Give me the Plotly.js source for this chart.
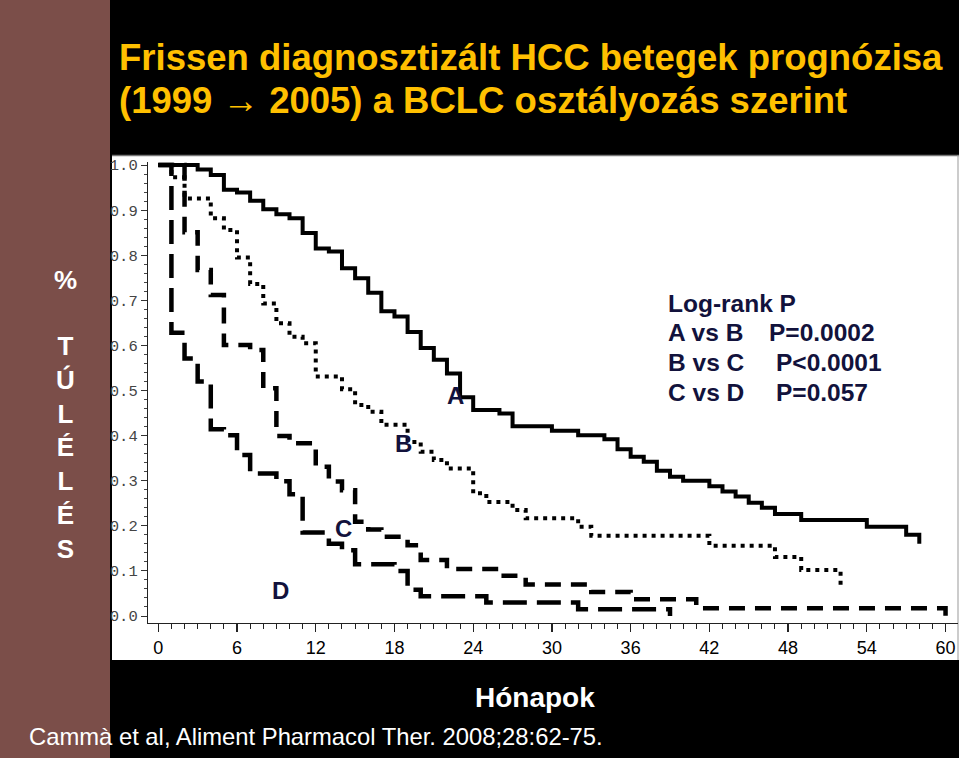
<!DOCTYPE html>
<html>
<head>
<meta charset="utf-8">
<script src="https://cdn.plot.ly/plotly-3.0.1.min.js"></script>
<style>
html,body{margin:0;padding:0;background:#000;}
#chart{width:959px;height:758px;}
</style>
</head>
<body>
<div id="chart"></div>
<script>
// ---- Data (Kaplan-Meier step curves) ----
const monthsA = [0,3,4,5,6,7,8,9,10,11,12,13,14,15,16,17,18,19,20,21,22,23,24,26,27,30,32,34,35,36,37,38,39,40,42,43,44,45,46,47,49,54,57,58];
const survA   = [1.0,0.990,0.978,0.945,0.939,0.921,0.902,0.891,0.882,0.849,0.815,0.808,0.771,0.749,0.717,0.676,0.664,0.630,0.594,0.568,0.538,0.485,0.457,0.449,0.421,0.411,0.401,0.392,0.370,0.353,0.342,0.322,0.309,0.300,0.288,0.276,0.265,0.251,0.240,0.226,0.213,0.198,0.180,0.160];

const monthsB = [0,1,2,4,5,6,7,8,9,10,11,12,14,15,16,17,19,20,21,22,24,25,27,28,32,33,42,47,49,52];
const survB   = [1.0,0.973,0.926,0.882,0.856,0.795,0.736,0.693,0.649,0.619,0.605,0.531,0.503,0.468,0.453,0.424,0.386,0.364,0.346,0.327,0.272,0.253,0.235,0.217,0.198,0.178,0.156,0.131,0.102,0.069];

const monthsC = [0,2,3,4,5,7,8,9,10,12,13,14,15,16,17,19,20,22,26,28,33,36,41,60];
const survC   = [1.0,0.851,0.767,0.712,0.601,0.590,0.505,0.399,0.383,0.331,0.298,0.279,0.209,0.192,0.176,0.157,0.124,0.104,0.089,0.070,0.053,0.037,0.017,0.0];

const monthsD = [0,1,2,3,4,5,6,7,9,10,11,13,14,15,18,19,20,25,32,39];
const survD   = [1.0,0.628,0.571,0.520,0.414,0.401,0.357,0.316,0.299,0.270,0.185,0.160,0.146,0.115,0.100,0.058,0.044,0.030,0.015,0.0];

const groupNames = ["A","B","C","D"];

const xTickVals   = [0,6,12,18,24,30,36,42,48,54,60];
const xTickLabels = ["0","6","12","18","24","30","36","42","48","54","60"];
const yTickVals   = [0,0.1,0.2,0.3,0.4,0.5,0.6,0.7,0.8,0.9,1.0];
const yTickLabels = ["0.0","0.1","0.2","0.3","0.4","0.5","0.6","0.7","0.8","0.9","1.0"];

const titleLine1 = "Frissen diagnosztizált HCC betegek prognózisa";
const titleLine2 = "(1999 → 2005) a BCLC osztályozás szerint";
const yLabelPct  = "%";
const yLabelWord = "T<br>Ú<br>L<br>É<br>L<br>É<br>S";
const xLabel     = "Hónapok";
const citation   = "Cammà et al, Aliment Pharmacol Ther. 2008;28:62-75.";
const logRankHead = "Log-rank P";
const comparisons = ["A vs B","B vs C","C vs D"];
const pValues     = ["P=0.0002","P&lt;0.0001","P=0.057"];

// ---- Layout helpers (pixel -> paper) ----
const ML=148, MR=1, MT=162, MB=135, W=959, H=758;
const PW = W-ML-MR, PH = H-MT-MB;
const px = v => (v-ML)/PW;
const py = v => (H-MB-v)/PH;

const navy = "#12123c";
const lineStyles = [
  {color:"#000", width:4, dash:"solid"},
  {color:"#000", width:4, dash:"4px,5px"},
  {color:"#000", width:4.5, dash:"16px,10px"},
  {color:"#000", width:4.5, dash:"24px,10px"}
];
const xs = [monthsA, monthsB, monthsC, monthsD];
const ys = [survA, survB, survC, survD];

const traces = xs.map((x,i)=>({
  type:"scatter", mode:"lines", x:x, y:ys[i], name:groupNames[i],
  line:Object.assign({shape:"hv"}, lineStyles[i]), hoverinfo:"skip"
}));

const bold = (size,color,fam)=>({family:fam||"Liberation Sans, Arial, sans-serif", size:size, color:color, weight:700});

const annotations = [
  {text:titleLine1, x:px(117), y:py(57), xanchor:"left", yanchor:"middle", font:bold(36.5,"#FFC000")},
  {text:titleLine2, x:px(117), y:py(101), xanchor:"left", yanchor:"middle", font:bold(36.5,"#FFC000")},
  {text:yLabelPct, x:px(65), y:py(280), xanchor:"center", yanchor:"middle", font:bold(26,"#fff")},
  {text:yLabelWord, x:px(65), y:py(447), xanchor:"center", yanchor:"middle", font:bold(26,"#fff")},
  {text:xLabel, x:px(535), y:py(697), xanchor:"center", yanchor:"middle", font:bold(28,"#fff")},
  {text:citation, x:px(27), y:py(736), xanchor:"left", yanchor:"middle", font:{family:"Liberation Sans, Arial, sans-serif", size:23.8, color:"#fff"}},
  {text:logRankHead, x:px(666), y:py(303), xanchor:"left", yanchor:"middle", font:bold(24.5,navy)},
  {text:comparisons[0], x:px(666), y:py(332), xanchor:"left", yanchor:"middle", font:bold(24.5,navy)},
  {text:pValues[0], x:px(767), y:py(332), xanchor:"left", yanchor:"middle", font:bold(24.5,navy)},
  {text:comparisons[1], x:px(666), y:py(362), xanchor:"left", yanchor:"middle", font:bold(24.5,navy)},
  {text:pValues[1], x:px(774), y:py(362), xanchor:"left", yanchor:"middle", font:bold(24.5,navy)},
  {text:comparisons[2], x:px(666), y:py(392), xanchor:"left", yanchor:"middle", font:bold(24.5,navy)},
  {text:pValues[2], x:px(774), y:py(392), xanchor:"left", yanchor:"middle", font:bold(24.5,navy)},
  {text:groupNames[0], x:px(455), y:py(395), xanchor:"center", yanchor:"middle", font:bold(24,navy)},
  {text:groupNames[1], x:px(403), y:py(443), xanchor:"center", yanchor:"middle", font:bold(24,navy)},
  {text:groupNames[2], x:px(343), y:py(528), xanchor:"center", yanchor:"middle", font:bold(24,navy)},
  {text:groupNames[3], x:px(280), y:py(590), xanchor:"center", yanchor:"middle", font:bold(24,navy)}
].map(a=>Object.assign({xref:"paper", yref:"paper", showarrow:false}, a));

const shapes = [
  {type:"rect", xref:"paper", yref:"paper", x0:px(0), x1:px(110), y0:py(758), y1:py(0), fillcolor:"#7b4e49", line:{width:0}, layer:"below"},
  {type:"rect", xref:"paper", yref:"paper", x0:px(112), x1:px(959), y0:py(660), y1:py(155), fillcolor:"#ffffff", line:{width:0}, layer:"below"},
  {type:"line", xref:"paper", yref:"paper", x0:px(112), x1:px(959), y0:py(155.5), y1:py(155.5), line:{color:"#777", width:1.5}, layer:"below"},
  {type:"line", xref:"paper", yref:"paper", x0:px(958), x1:px(958), y0:py(660), y1:py(155), line:{color:"#999", width:1}, layer:"below"}
];

const layout = {
  width:W, height:H,
  margin:{l:ML, r:MR, t:MT, b:MB, pad:0},
  paper_bgcolor:"#000", plot_bgcolor:"#fff",
  showlegend:false,
  xaxis:{
    range:[-0.785, 60.95], tickmode:"array", tickvals:xTickVals, ticktext:xTickLabels,
    ticks:"outside", ticklen:8, tickwidth:1.2, tickcolor:"#222",
    showline:true, linecolor:"#222", linewidth:1.2, showgrid:false, zeroline:false,
    tickfont:{family:"Liberation Sans Narrow, Liberation Sans, Arial, sans-serif", size:18, color:"#000"},
    minor:{tickmode:"linear", tick0:0, dtick:1, ticks:"outside", ticklen:5, tickwidth:1, tickcolor:"#222", showgrid:false},
    fixedrange:true
  },
  yaxis:{
    range:[-0.0155, 1.0067], tickmode:"array", tickvals:yTickVals, ticktext:yTickLabels,
    ticks:"outside", ticklen:6, tickwidth:1, tickcolor:"#333",
    showline:true, linecolor:"#222", linewidth:1.2, showgrid:false, zeroline:false,
    tickfont:{family:"Liberation Mono, DejaVu Sans Mono, monospace", size:15.5, color:"#444"},
    minor:{tickmode:"linear", tick0:0, dtick:0.02, ticks:"outside", ticklen:3, tickwidth:1, tickcolor:"#444", showgrid:false},
    fixedrange:true
  },
  annotations:annotations,
  shapes:shapes
};

Plotly.newPlot("chart", traces, layout, {staticPlot:true, displayModeBar:false});
</script>
</body>
</html>
